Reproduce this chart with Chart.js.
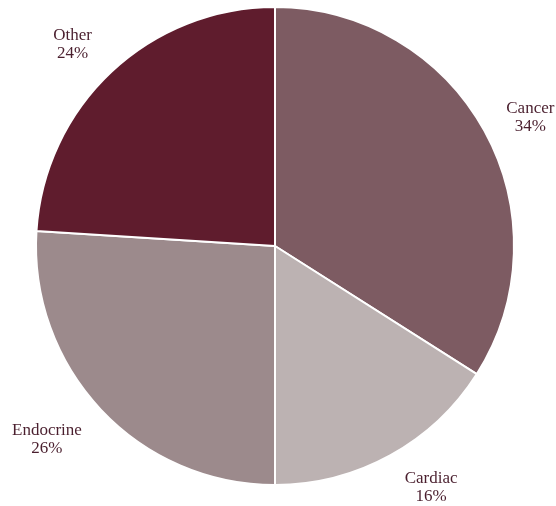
<!DOCTYPE html>
<html>
<head>
<meta charset="utf-8">
<script src="https://cdn.jsdelivr.net/npm/chart.js@4"></script>
<style>
  html, body { margin: 0; padding: 0; background: #fff; }
  #wrap { width: 556px; height: 506px; }
</style>
</head>
<body>
<div id="wrap"><canvas id="chart"></canvas></div>
<script>
var categories = ["Cancer", "Cardiac", "Endocrine", "Other"];
var shares = [34, 16, 26, 24];
var sliceColors = ["#7d5b62", "#bcb2b2", "#9c8a8c", "#5f1c2d"];

// draws "Name / NN%" outside each slice along its middle angle
var outsideLabels = {
    id: 'outsideLabels',
    afterDatasetsDraw: function (chart, args, opts) {
        var ctx = chart.ctx;
        var meta = chart.getDatasetMeta(0);
        ctx.save();
        ctx.font = "17px 'Liberation Serif', 'Times New Roman', serif";
        ctx.fillStyle = "#4a1f2e";
        ctx.textAlign = "center";
        ctx.textBaseline = "middle";
        meta.data.forEach(function (arc, i) {
            var mid = (arc.startAngle + arc.endAngle) / 2;
            var r = arc.outerRadius * 1.2;
            var nudge = opts.nudge[i] || [0, 0];
            var x = arc.x + Math.cos(mid) * r + nudge[0];
            var y = arc.y + Math.sin(mid) * r + nudge[1];
            ctx.fillText(categories[i], x, y - 9);
            ctx.fillText(shares[i] + "%", x, y + 9);
        });
        ctx.restore();
    }
};

var chart = new Chart(document.getElementById('chart'), {
    type: 'pie',
    data: {
        labels: categories,
        datasets: [{
            data: shares,
            backgroundColor: sliceColors,
            borderColor: "#ffffff",
            borderWidth: 2
        }]
    },
    options: {
        responsive: true,
        maintainAspectRatio: false,
        animation: false,
        layout: { padding: { top: 6, bottom: 20, left: 34, right: 40 } },
        plugins: {
            legend: { display: false },
            tooltip: { enabled: false },
            outsideLabels: { nudge: [[4, 10], [18, -10], [-19, -3], [-6, 8]] }
        }
    },
    plugins: [outsideLabels]
});
</script>
</body>
</html>
